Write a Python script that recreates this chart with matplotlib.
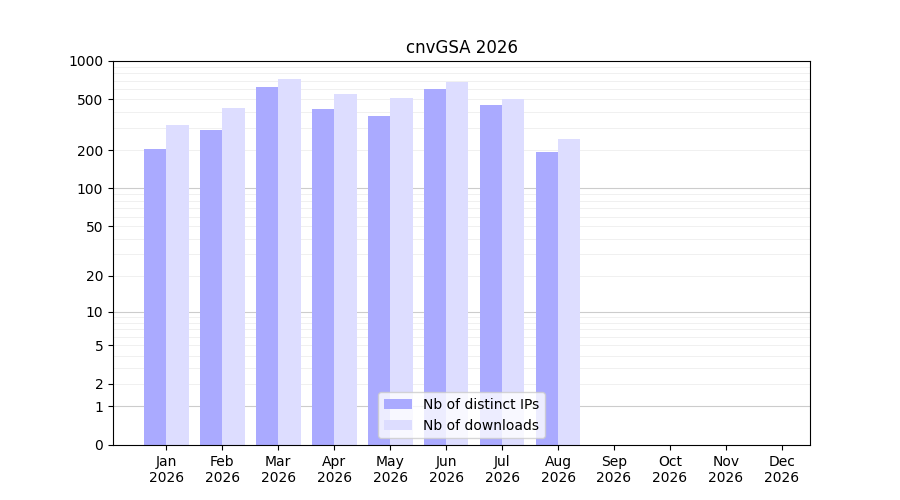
import numpy as np
import matplotlib
matplotlib.use("Agg")
import matplotlib.pyplot as plt

months = ["Jan\n2026","Feb\n2026","Mar\n2026","Apr\n2026","May\n2026","Jun\n2026",
          "Jul\n2026","Aug\n2026","Sep\n2026","Oct\n2026","Nov\n2026","Dec\n2026"]
ips = [203, 290, 626, 421, 370, 604, 452, 195]
downloads = [316, 429, 720, 552, 512, 685, 504, 245]
yticks = [0, 1, 2, 5, 10, 20, 50, 100, 200, 500, 1000]

fig = plt.figure(figsize=(9, 5), dpi=100)
ax = fig.add_axes([113/900, 1-445/500, (810-113)/900, (445-61)/500])
ax.set_yscale('function', functions=(lambda v: np.log10(np.maximum(v, 0) + 1),
                                     lambda v: 10**v - 1))
x = np.arange(len(ips))
ax.bar(x - 0.2, ips, width=0.4, color='#aaaaff', label='Nb of distinct IPs', zorder=2)
ax.bar(x + 0.2, downloads, width=0.4, color='#ddddff', label='Nb of downloads', zorder=2)
ax.set_xticks(np.arange(12))
ax.set_xticklabels(months)
ax.set_xlim(-0.95, 11.5)
ax.set_ylim(0, 1000)
ax.set_yticks(yticks)
ax.set_yticklabels([str(t) for t in yticks])
minors = [m * 10**e for e in range(0, 3) for m in range(2, 10)]
ax.set_yticks(minors, minor=True)
ax.tick_params(axis='y', which='minor', length=0)
for v in [1, 10, 100]:
    ax.axhline(v, color='#cccccc', lw=0.8, zorder=1)
for v in minors:
    ax.axhline(v, color='#eeeeee', lw=0.6, zorder=1)
ax.set_title('cnvGSA 2026')
ax.legend(loc='lower center')
fig.savefig('out.png')
